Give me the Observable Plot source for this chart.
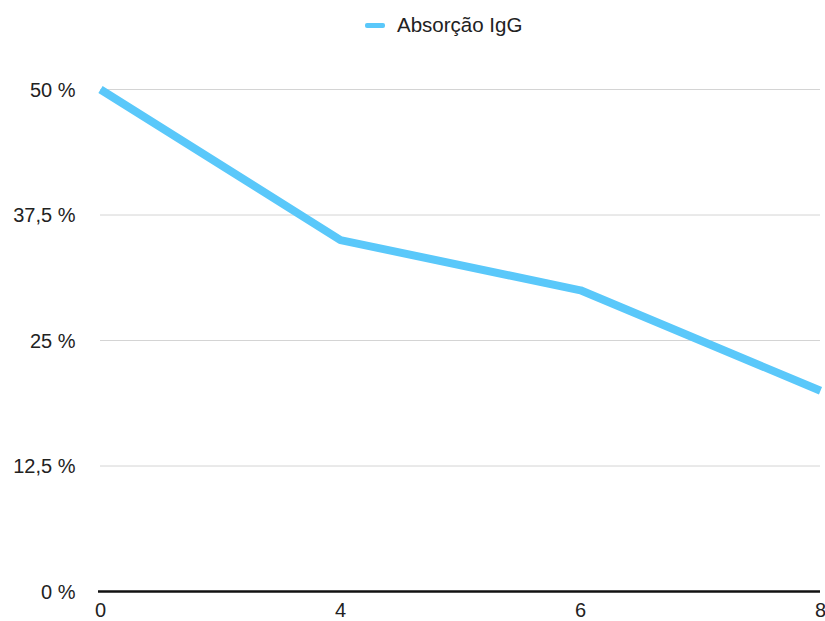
<!DOCTYPE html>
<html>
<head>
<meta charset="utf-8">
<script src="https://cdn.jsdelivr.net/npm/d3@7"></script>
<script src="https://cdn.jsdelivr.net/npm/@observablehq/plot@0.6"></script>
<style>
  html, body { margin: 0; padding: 0; background: #fff; overflow: hidden; }
  #wrap { position: relative; width: 825px; height: 621px; overflow: hidden; }
  #legend { position: absolute; left: 365px; top: 13px; line-height: 24px; font-family: "Liberation Sans", Arial, sans-serif; font-size: 20.5px; color: #222; display: flex; align-items: center; z-index: 2; }
  #legend .sw { width: 20px; height: 5px; background: #5AC8FA; border-radius: 2px; margin-right: 12px; }
</style>
</head>
<body>
<div id="wrap">
  <div id="legend"><span class="sw"></span><span>Absorção IgG</span></div>
  <div id="chart"></div>
</div>
<script>
const seriesName = "Absorção IgG";
const categories = ["0", "4", "6", "8"];
const values = [50, 35, 30, 20];
const yTicks = [0, 12.5, 25, 37.5, 50];
const yTickLabels = ["0 %", "12,5 %", "25 %", "37,5 %", "50 %"];

const data = categories.map((c, i) => ({x: c, y: values[i]}));

const chart = Plot.plot({
  width: 825,
  height: 621,
  marginTop: 89,
  marginBottom: 30,
  marginLeft: 100,
  marginRight: 5,
  style: {fontFamily: "Liberation Sans, Arial, sans-serif", background: "#fff", overflow: "visible"},
  x: {type: "point", domain: categories, padding: 0, axis: null},
  y: {domain: [0, 50], axis: null},
  marks: [
    Plot.gridY(yTicks.filter(d => d > 0), {stroke: "#d4d4d4", strokeOpacity: 1, strokeWidth: 1}),
    Plot.ruleY([0], {stroke: "#111", strokeWidth: 2.5, insetLeft: -2}),
    Plot.text(yTicks, {y: d => d, text: (d, i) => yTickLabels[i], frameAnchor: "left",
      dx: -25, dy: 1, textAnchor: "end", fontSize: 20, fill: "#222"}),
    Plot.text(categories, {x: d => d, text: d => d, frameAnchor: "bottom", dy: 25,
      fontSize: 20, fill: "#222"}),
    Plot.line(data, {x: "x", y: "y", stroke: "#5AC8FA", strokeWidth: 8, strokeLinejoin: "round", strokeLinecap: "butt"})
  ]
});
document.getElementById("chart").appendChild(chart);
</script>
</body>
</html>
